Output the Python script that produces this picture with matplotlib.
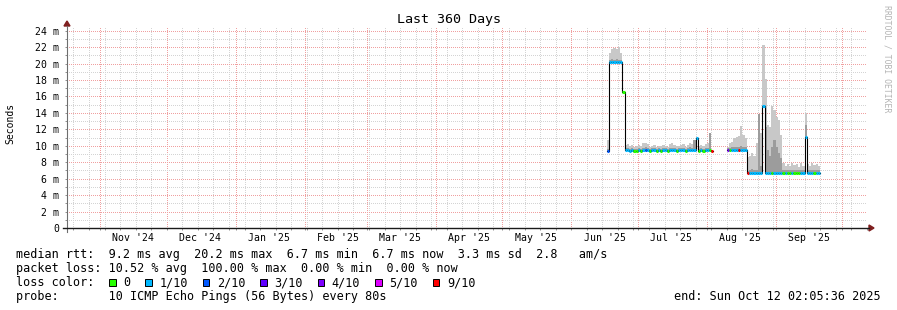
import matplotlib
matplotlib.use('Agg')
import matplotlib.pyplot as plt
import matplotlib.dates as mdates
from matplotlib.patches import Rectangle, Polygon
from matplotlib.lines import Line2D
from matplotlib.ticker import MultipleLocator, FuncFormatter, NullFormatter
import numpy as np
from datetime import datetime

plt.rcParams['font.family'] = ['DejaVu Sans Mono']

# time range of the graph and first daily sample
range_start = datetime(2024, 10, 17, 2, 5, 36)
range_end = datetime(2025, 10, 12, 2, 5, 36)
first_day = datetime(2025, 6, 17)

# daily median rtt (ms), None = no data
median_ms = [
    9.4, 20.2, 20.2, 20.2, 20.2, 20.2, 20.2, 16.6,
    9.5, 9.5, 9.4, 9.5, 9.4, 9.4, 9.5, 9.4, 9.5, 9.5,
    9.5, 9.4, 9.5, 9.5, 9.4, 9.5, 9.4, 9.5, 9.5, 9.4,
    9.5, 9.5, 9.5, 9.4, 9.5, 9.5, 9.5, 9.4, 9.5, 9.5,
    9.5, 9.5, 11.0, 9.4, 9.5, 9.4, 9.5, 9.5, 9.5, 9.4,
    None, None, None, None, None, None,
    9.5, 9.5, 9.5, 9.5, 9.5, 9.5, 9.5, 9.5, 9.5,
    6.7, 6.7, 6.7, 6.7, 6.7, 6.7, 6.7, 14.8, 6.7, 6.7,
    6.7, 6.7, 6.7, 6.7, 6.7, 6.7, 6.7, 6.7, 6.7, 6.7,
    6.7, 6.7, 6.7, 6.7, 6.7, 6.7, 11.1, 6.7, 6.7, 6.7,
    6.7, 6.7, 6.7,
]
# darker smoke upper level (ms)
smoke_mid_ms = [
    9.6, 20.4, 20.5, 20.4, 20.5, 20.4, 20.4, 16.6,
    9.7, 9.7, 9.6, 9.7, 9.6, 9.6, 9.7, 9.6, 9.7, 9.8,
    9.7, 9.6, 9.7, 9.7, 9.6, 9.7, 9.6, 9.7, 9.7, 9.6,
    9.7, 9.7, 9.7, 9.6, 9.7, 9.7, 9.7, 9.6, 9.7, 9.8,
    9.7, 10.7, 11.0, 9.6, 9.7, 9.6, 9.7, 9.7, 11.6, 9.6,
    None, None, None, None, None, None,
    9.7, 9.7, 9.8, 9.8, 9.8, 9.9, 10.0, 9.8, 9.8,
    6.9, 7.0, 7.2, 7.0, 7.1, 13.9, 7.6, 14.8, 12.3, 9.5,
    8.7, 9.9, 10.7, 9.9, 9.1, 8.5, 7.1, 7.0, 7.1, 7.0,
    7.1, 7.0, 7.1, 7.0, 7.1, 7.0, 12.5, 7.1, 7.0, 7.1,
    7.0, 7.1, 7.0,
]
# light smoke top = slowest ping (ms)
smoke_top_ms = [
    10.7, 21.3, 21.8, 21.9, 21.8, 22.0, 21.3, 16.6,
    10.1, 10.2, 10.0, 10.1, 9.9, 10.0, 10.1, 10.0, 10.3, 10.3,
    10.2, 9.9, 10.0, 10.1, 9.9, 10.0, 10.0, 10.1, 10.0, 9.9,
    10.2, 10.3, 10.1, 10.0, 10.0, 10.1, 10.2, 9.9, 10.1, 10.3,
    10.2, 10.7, 11.1, 10.0, 10.1, 10.0, 10.2, 10.3, 11.6, 9.9,
    None, None, None, None, None, None,
    9.9, 10.3, 10.5, 10.9, 11.1, 11.2, 12.4, 11.3, 10.9,
    8.6, 8.7, 9.1, 8.7, 10.3, 13.9, 11.5, 22.2, 18.1, 12.5,
    12.3, 14.8, 14.4, 13.5, 13.1, 11.3, 7.9, 7.6, 7.8, 7.5,
    7.9, 7.7, 7.8, 7.4, 7.9, 7.6, 14.0, 7.8, 7.6, 7.9,
    7.7, 7.8, 7.6,
]
# packet loss in tenths
loss_tenths = [
    2, 1, 1, 1, 1, 1, 1, 0,
    1, 1, 1, 1, 0, 0, 1, 0, 1, 2,
    1, 0, 1, 1, 0, 1, 0, 1, 1, 0,
    1, 1, 1, 0, 1, 1, 1, 0, 1, 1,
    1, 1, 1, 0, 1, 0, 1, 1, 0, 9,
    None, None, None, None, None, None,
    4, 0, 1, 1, 1, 9, 1, 1, 1,
    9, 1, 1, 1, 1, 1, 1, 1, 1, 1,
    1, 0, 1, 1, 1, 1, 0, 1, 0, 0,
    1, 0, 0, 0, 1, 1, 1, 1, 1, 1,
    0, 1, 1,
]

loss_levels = ['0', '1/10', '2/10', '3/10', '4/10', '5/10', '9/10']
loss_level_tenths = [0, 1, 2, 3, 4, 5, 9]
loss_colors = ['#26ff00', '#00b8ff', '#0059ff', '#5e00ff', '#7e00ff', '#dd00ff', '#ff0000']

months = [(2024, 11), (2024, 12), (2025, 1), (2025, 2), (2025, 3), (2025, 4),
          (2025, 5), (2025, 6), (2025, 7), (2025, 8), (2025, 9)]
month_labels = ["Nov '24", "Dec '24", "Jan '25", "Feb '25", "Mar '25", "Apr '25",
                "May '25", "Jun '25", "Jul '25", "Aug '25", "Sep '25"]

title = 'Last 360 Days'
median_line = 'median rtt:  9.2 ms avg  20.2 ms max  6.7 ms min  6.7 ms now  3.3 ms sd  2.8   am/s'
loss_line = 'packet loss: 10.52 % avg  100.00 % max  0.00 % min  0.00 % now'
probe_line = 'probe:       10 ICMP Echo Pings (56 Bytes) every 80s'
end_line = 'end: Sun Oct 12 02:05:36 2025'


def loss_color(t):
    c = loss_colors[0]
    for lvl, col in zip(loss_level_tenths, loss_colors):
        if t >= lvl:
            c = col
    return c


W, H = 897, 310
fig = plt.figure(figsize=(W / 100, H / 100), dpi=100)
fig.patch.set_facecolor('white')


def px(x, y):
    return (x / W, 1 - y / H)


ax = fig.add_axes([67 / W, 1 - 228 / H, 800 / W, 202 / H])
ax.set_xlim(mdates.date2num(range_start), mdates.date2num(range_end))
ax.set_ylim(0, 24 * 202 / 197.3)
for s in ax.spines.values():
    s.set_visible(False)

med = np.array(median_ms, dtype=float)
mid = np.array(smoke_mid_ms, dtype=float)
top = np.array(smoke_top_ms, dtype=float)
n = len(med)
edges = mdates.date2num(first_day) + np.arange(n + 1)


def ext(a):
    return np.append(a, a[-1])


ax.fill_between(edges, ext(med), ext(top), step='post', color='#c8c8c8', lw=0, zorder=2)
ax.fill_between(edges, ext(med), ext(mid), step='post', color='#9c9c9c', lw=0, zorder=3)
ax.step(edges, ext(med), where='post', color='black', lw=0.8, zorder=4)
for k in range(n):
    if np.isnan(med[k]):
        continue
    ax.hlines(med[k], edges[k], edges[k + 1], colors=loss_color(loss_tenths[k]),
              lw=2.2, zorder=5)

# grid (dotted, 1px)
ax.yaxis.set_major_locator(MultipleLocator(2))
ax.yaxis.set_minor_locator(MultipleLocator(1))
ax.xaxis.set_major_locator(mdates.MonthLocator())
ax.xaxis.set_minor_locator(mdates.WeekdayLocator(byweekday=mdates.SU))
ax.grid(True, which='minor', color='#d4d4d4', lw=0.72, ls=(0, (1, 2)), antialiased=False)
ax.grid(True, which='major', color='#f0a0a0', lw=0.72, ls=(0, (1, 2)), antialiased=False)
ax.set_axisbelow(True)
ax.yaxis.set_major_formatter(FuncFormatter(lambda v, p: '0' if v == 0 else f'{v:.0f} m'))
ax.xaxis.set_major_formatter(NullFormatter())
ax.tick_params(axis='both', which='both', direction='out', length=1.5, width=0.7, color='#909090')
ax.tick_params(axis='y', which='major', labelsize=7.1, pad=4.1)

for (y, m), lab in zip(months, month_labels):
    ax.text(mdates.date2num(datetime(y, m, 16)), -10 / 202, lab, transform=ax.get_xaxis_transform(),
            ha='center', va='center', fontsize=7.1)

# axes lines and arrows
fig.add_artist(Line2D([67 / W, 67 / W], [1 - 232 / H, 1 - 26 / H], color='#6e6e6e', lw=0.8))
fig.add_artist(Line2D([63 / W, 869 / W], [1 - 228 / H, 1 - 228 / H], color='#1a1a1a', lw=1.0))
fig.add_artist(Polygon([px(64, 26), px(70, 26), px(67, 21)], closed=True, color='#801f1f'))
fig.add_artist(Polygon([px(869, 225), px(869, 231), px(874, 228)], closed=True, color='#801f1f'))

# texts
fig.text(448.5 / W, 1 - 19 / H, title, ha='center', va='center', fontsize=9.6)
fig.text(10.5 / W, 1 - 123 / H, 'Seconds', rotation=90, ha='center', va='center', fontsize=7.0)
fig.text(887 / W, 1 - 59 / H, 'RRDTOOL / TOBI OETIKER', rotation=-90, ha='center', va='center',
         fontsize=5.9, color='#b4b4b4')

cw = 7.1
fs = 8.5
fig.text(16 / W, 1 - 254.5 / H, median_line, ha='left', va='center', fontsize=fs)
fig.text(16 / W, 1 - 268.3 / H, loss_line, ha='left', va='center', fontsize=fs)
fig.text(16 / W, 1 - 282.5 / H, 'loss color:', ha='left', va='center', fontsize=fs)
fig.text(16 / W, 1 - 296.5 / H, probe_line, ha='left', va='center', fontsize=fs)
fig.text(881 / W, 1 - 296.5 / H, end_line, ha='right', va='center', fontsize=fs)

col = 13.1
for lab, c in zip(loss_levels, loss_colors):
    bx = 16 + col * cw
    fig.add_artist(Rectangle(px(bx, 285.5), 6.5 / W, 6.5 / H, facecolor=c, edgecolor='black', lw=0.7))
    fig.text((bx + 14) / W, 1 - 282.5 / H, lab, ha='left', va='center', fontsize=fs)
    col += 2 + len(lab) + 2.1

fig.savefig('out.png', dpi=100)
